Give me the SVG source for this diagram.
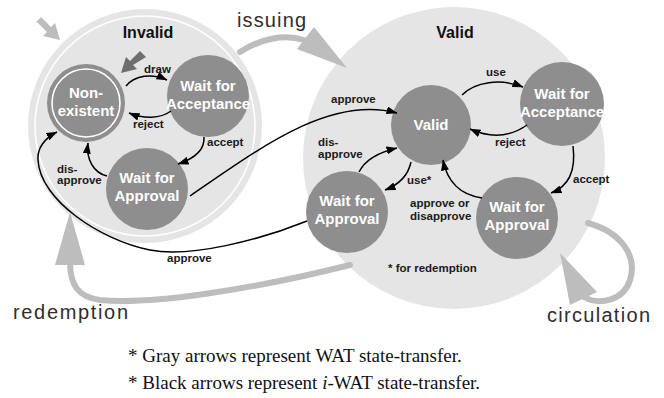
<svg xmlns="http://www.w3.org/2000/svg" width="664" height="398" viewBox="0 0 664 398">
  <defs>
    <style>
      .region { fill: #e5e5e5; }
      .ring { fill: none; stroke: #ffffff; stroke-width: 1.6; }
      .state { fill: #8e8e8e; }
      .state-text { font-family: "Liberation Sans", Arial, sans-serif; font-weight: bold; font-size: 15px; fill: #ffffff; text-anchor: middle; }
      .title { font-family: "Liberation Sans", Arial, sans-serif; font-weight: bold; font-size: 16px; fill: #111111; text-anchor: middle; }
      .lbl { font-family: "Liberation Sans", Arial, sans-serif; font-weight: bold; font-size: 11.5px; fill: #1a1a1a; }
      .big-lbl { font-family: "Liberation Sans", Arial, sans-serif; font-size: 20px; fill: #2e2e2e; }
      .note { font-family: "Liberation Serif", "Times New Roman", serif; font-size: 19px; fill: #111111; }
      .iwat { fill: none; stroke: #000000; stroke-width: 1.5; marker-end: url(#head); }
      .wat { fill: none; stroke: #bdbdbd; stroke-width: 6; stroke-linecap: round; }
      .wat-head { fill: #bdbdbd; }
    </style>
    <marker id="head" viewBox="0 0 11 8" refX="10.5" refY="4" markerWidth="11" markerHeight="8" markerUnits="userSpaceOnUse" orient="auto">
      <path d="M0,0 L11,4 L0,8 z" fill="#000000"/>
    </marker>
  </defs>

  <!-- state regions -->
  <g id="region-invalid">
    <circle class="region" cx="145" cy="126" r="117"/>
    <circle class="ring" cx="145" cy="126" r="110"/>
    <text class="title" x="148" y="38">Invalid</text>
  </g>
  <g id="region-valid">
    <circle class="region" cx="454" cy="158" r="151"/>
    <text class="title" x="455" y="38">Valid</text>
  </g>

  <!-- states inside Invalid -->
  <g id="non-existent">
    <circle class="state" cx="86" cy="103" r="39"/>
    <circle class="ring" cx="86" cy="103" r="34" stroke-width="1.8"/>
    <text class="state-text" x="86" y="98">Non-</text>
    <text class="state-text" x="86" y="116">existent</text>
  </g>
  <g id="invalid-wait-acceptance">
    <circle class="state" cx="208" cy="96" r="41"/>
    <text class="state-text" x="208" y="91">Wait for</text>
    <text class="state-text" x="208" y="109">Acceptance</text>
  </g>
  <g id="invalid-wait-approval">
    <circle class="state" cx="147" cy="189" r="41"/>
    <text class="state-text" x="147" y="183">Wait for</text>
    <text class="state-text" x="147" y="201">Approval</text>
  </g>

  <!-- states inside Valid -->
  <g id="valid">
    <circle class="state" cx="431" cy="125" r="40"/>
    <text class="state-text" x="431" y="130">Valid</text>
  </g>
  <g id="valid-wait-acceptance">
    <circle class="state" cx="562" cy="104" r="42"/>
    <text class="state-text" x="562" y="99">Wait for</text>
    <text class="state-text" x="562" y="117">Acceptance</text>
  </g>
  <g id="valid-wait-approval-left">
    <circle class="state" cx="347" cy="212" r="41"/>
    <text class="state-text" x="347" y="206">Wait for</text>
    <text class="state-text" x="347" y="224">Approval</text>
  </g>
  <g id="valid-wait-approval-right">
    <circle class="state" cx="517" cy="218" r="41"/>
    <text class="state-text" x="517" y="212">Wait for</text>
    <text class="state-text" x="517" y="230">Approval</text>
  </g>

  <!-- transitions -->
  <g id="connectors">
    <!-- WAT transitions (gray) -->
    <polygon class="wat-head" points="35,23 41,17 51,27 55,23 60,40 43,36 47,32 37,22"/>
    <path class="wat" d="M240,52 C262,38 285,34 304,40"/>
    <polygon class="wat-head" points="297,49 314,27 347,68"/>
    <path class="wat" d="M350,265 C250,290 150,305 100,300 C78,297 70,285 70,262"/>
    <polygon class="wat-head" points="55,265 85,265 70,212"/>
    <path class="wat" d="M588,223 C620,232 638,255 630,280 C624,300 600,306 584,297"/>
    <polygon class="wat-head" points="570,305 597,292 560,253"/>
    <!-- entry into Non-existent (dark gray) -->
    <polygon fill="#6e6e6e" points="146,57 140,51 130,61 126,57 121,73 137,69 133,65"/>

    <!-- i-WAT transitions (black) -->
    <path class="iwat" d="M126,86 C135,75 152,73 167,80"/>
    <path class="iwat" d="M171,111 C160,119 144,119 129,113"/>
    <path class="iwat" d="M204,137 C205,151 193,159 178,164"/>
    <path class="iwat" d="M107,176 C94,173 86,160 88,143"/>
    <path class="iwat" d="M190,196 C260,148 330,95 397,113"/>
    <path class="iwat" d="M307,221 C260,240 190,258 150,250 C100,240 40,200 38,160 C37,148 45,138 57,132"/>
    <path class="iwat" d="M359,172 C365,160 380,152 397,148"/>
    <path class="iwat" d="M411,162 C408,176 398,185 385,190"/>
    <path class="iwat" d="M462,95 C475,82 500,78 523,87"/>
    <path class="iwat" d="M527,125 C510,137 490,138 470,129"/>
    <path class="iwat" d="M573,146 C576,170 570,186 551,193"/>
    <path class="iwat" d="M482,198 C460,195 447,181 443,160"/>

    <!-- transition labels -->
    <text class="lbl" x="144" y="73">draw</text>
    <text class="lbl" x="133" y="128">reject</text>
    <text class="lbl" x="207" y="146">accept</text>
    <text class="lbl" x="57" y="173">dis-</text>
    <text class="lbl" x="57" y="184">approve</text>
    <text class="lbl" x="167" y="262">approve</text>
    <text class="lbl" x="331" y="103">approve</text>
    <text class="lbl" x="318" y="146">dis-</text>
    <text class="lbl" x="318" y="158">approve</text>
    <text class="lbl" x="407" y="184">use*</text>
    <text class="lbl" x="486" y="76">use</text>
    <text class="lbl" x="495" y="146">reject</text>
    <text class="lbl" x="573" y="183">accept</text>
    <text class="lbl" x="410" y="207">approve or</text>
    <text class="lbl" x="410" y="220">disapprove</text>
    <text class="lbl" x="388" y="272">* for redemption</text>

    <text class="big-lbl" x="237" y="27" textLength="69" lengthAdjust="spacing">issuing</text>
    <text class="big-lbl" x="13" y="319" textLength="115" lengthAdjust="spacing">redemption</text>
    <text class="big-lbl" x="547" y="322" textLength="103" lengthAdjust="spacing">circulation</text>
  </g>

  <!-- legend -->
  <text class="note" x="128" y="362">* Gray arrows represent WAT state-transfer.</text>
  <text class="note" x="128" y="389">* Black arrows represent <tspan font-style="italic">i</tspan>-WAT state-transfer.</text>
</svg>
